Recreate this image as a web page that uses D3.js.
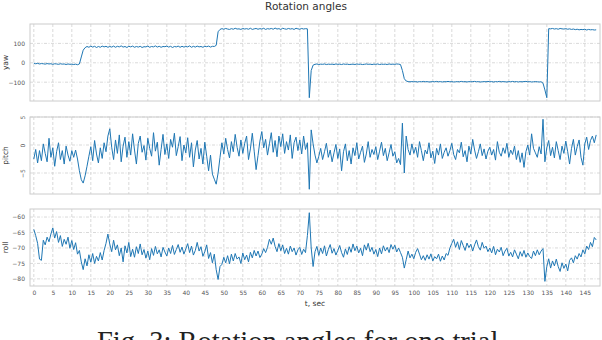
<!DOCTYPE html>
<html>
<head>
<meta charset="utf-8">
<script src="https://cdn.jsdelivr.net/npm/d3@7"></script>
<style>
  body { margin: 0; background: #fff; }
  text { font-family: "DejaVu Sans", sans-serif; }
</style>
</head>
<body>
<div id="chart-area"></div>
<script>
/*
*   Rotation angles: yaw / pitch / roll against time
*/

var dt = 0.5; // sample step, sec

var xTicks = [0, 5, 10, 15, 20, 25, 30, 35, 40, 45, 50, 55, 60, 65, 70, 75, 80, 85, 90, 95,
              100, 105, 110, 115, 120, 125, 130, 135, 140, 145];
var yawTicks = [-100, 0, 100];
var pitchTicks = [-5, 0, 5];
var rollTicks = [-80, -75, -70, -65, -60];

var yawData = [
  -2, -5, -3, -6, -4, -5, -7, -4, -6, -5, -8, -5, -6, -8, -5, -7, -6, -9, -6, -8,
  -7, -9, -7, -10, -6, 30, 65, 78, 84, 80, 86, 81, 85, 79, 84, 80, 86, 82, 85, 80,
  84, 81, 86, 80, 85, 82, 87, 81, 84, 79, 85, 82, 86, 80, 84, 81, 85, 79, 83, 82,
  86, 80, 84, 82, 87, 81, 85, 80, 84, 83, 86, 81, 85, 79, 84, 82, 86, 80, 85, 81,
  84, 82, 87, 80, 85, 81, 86, 82, 84, 80, 85, 83, 86, 81, 85, 84, 90, 160, 172, 176,
  173, 177, 174, 172, 176, 173, 178, 174, 175, 172, 177, 174, 176, 173, 178, 172, 175, 177, 173, 176,
  174, 178, 172, 176, 174, 177, 173, 179, 174, 176, 172, 178, 175, 173, 177, 174, 176, 172, 178, 175,
  173, 177, 174, 176, 175, -180, -40, -12, -8, -6, -9, -7, -8, -6, -9, -7, -8, -7, -9, -6,
  -8, -7, -9, -6, -8, -7, -9, -8, -7, -9, -6, -8, -7, -9, -8, -6, -8, -7, -9, -7,
  -8, -6, -9, -7, -8, -7, -9, -6, -8, -7, -8, -6, -7, -9, -40, -82, -94, -97, -98, -97,
  -98, -97, -99, -97, -98, -96, -98, -97, -99, -98, -97, -98, -96, -98, -97, -99, -97, -98, -96, -98,
  -97, -99, -98, -97, -98, -96, -98, -97, -99, -97, -98, -97, -96, -98, -97, -99, -98, -97, -98, -96,
  -98, -97, -99, -97, -98, -96, -98, -97, -98, -99, -97, -98, -96, -98, -97, -99, -97, -98, -97, -96,
  -98, -97, -99, -98, -97, -98, -99, -98, -105, -140, -180, 176, 175, 177, 174, 176, 173, 177, 175, 174,
  176, 173, 175, 172, 174, 171, 173, 170, 172, 171, 173, 169, 172, 170, 171, 169, 170
];

var pitchData = [
  -2.5, -0.8, -3.2, -1.0, -2.8, 0.2, -1.5, -3.0, 1.2, -2.2, -0.5, -3.8, -1.2, 0.4, -2.6, -1.0, -3.4, -0.2, -1.8, -2.9,
  -1.0, -2.2, -0.9, -2.5, -4.6, -6.2, -6.8, -5.5, -3.8, -2.0, -0.3, -2.8, 0.8, -1.6, -3.2, -0.5, -2.4, 0.4, -1.2, 1.6,
  2.9, -0.4, -2.6, 0.9, -1.5, 1.8, -3.0, -0.2, 1.4, -2.2, 0.6, -1.8, 2.0, -0.9, -3.4, 0.3, 1.6, -1.3, -0.1, -2.7,
  1.2, -0.6, -2.0, 2.2, -1.1, 0.5, -3.6, -0.8, 1.9, -1.7, 0.2, -2.4, 1.0, -0.4, 2.1, -1.9, -0.3, 1.5, -2.8, 0.0,
  -1.4, 1.3, -2.2, 0.4, -3.9, -0.9, 0.8, -2.5, -0.6, -3.4, 0.5, -2.0, -4.6, -1.8, -5.2, -6.1, -7.0, -5.0, -2.2, 0.4,
  -1.6, 1.2, -0.8, -2.3, 0.6, -1.2, 1.9, -0.4, -2.0, 0.9, -1.5, 0.3, 1.6, -2.6, -0.7, 2.1, -1.1, -4.4, -1.9, 0.7,
  2.4, -0.5, 1.0, -1.8, 0.2, 2.2, -1.3, 0.8, -2.1, 1.6, -0.3, 2.0, -1.5, 0.6, -0.9, 1.8, -2.4, 0.4, 1.4, -1.0,
  0.9, -1.6, 1.6, -0.8, 0.4, -7.9, 2.7, 0.2, -1.8, -3.2, -2.0, -0.6, -2.6, -1.2, 0.3, -2.2, -0.9, -3.0, -1.4, 0.1,
  -2.4, -0.7, -4.6, -1.2, 0.2, -2.8, -1.0, -3.4, -0.5, -1.9, 0.4, -2.5, -1.3, -0.2, -3.1, -1.6, 0.6, -2.2, -0.8, -1.7,
  -0.3, -2.6, -1.1, 0.5, -1.9, -0.6, -2.8, -1.4, 0.1, -2.0, -1.2, -3.2, -2.4, -3.5, 3.9, -5.0, 1.6, -0.8, -1.8, 0.2,
  -1.5, -0.4, -2.2, 0.6, -1.0, -2.8, -0.9, -1.6, 0.4, -2.3, -1.1, -3.3, -0.6, -1.8, 0.2, -2.4, -1.3, -0.5, -2.0, -1.0,
  0.3, -1.7, -2.6, -0.8, -1.4, 0.5, -2.1, -1.0, -3.0, -0.2, -1.6, 1.0, -0.9, -2.4, -1.2, 0.2, -1.9, -0.7, -2.5, -1.1,
  -0.4, -1.8, -0.8, -2.7, 0.6, -1.3, -2.0, -0.5, -1.5, 0.3, -2.2, -0.9, -1.7, -0.2, -2.6, -1.0, -3.1, -1.4, -4.0, -1.2,
  0.0, -1.8, 2.0, -0.6, -1.4, -2.2, -0.3, -1.6, 4.6, -3.0, -0.5, 0.8, -1.9, -0.4, -2.3, 0.6, -1.0, -2.6, -0.2, -1.5,
  0.7, -1.2, -3.4, -0.6, 1.0, -1.8, -0.3, 0.9, -2.2, -3.6, 0.2, 1.4, -0.8, 0.8, 1.6, 0.4, 1.8
];

var rollData = [
  -64.0, -66.0, -68.5, -73.6, -74.0, -67.5, -69.0, -66.5, -68.0, -65.5, -63.5, -66.8, -64.7, -68.2, -66.0, -69.5, -67.2, -68.8, -66.5, -70.1,
  -67.6, -70.5, -68.3, -72.0, -70.8, -74.5, -77.0, -73.5, -75.8, -72.2, -74.6, -71.8, -75.0, -72.7, -74.2, -71.5, -73.9, -70.8, -68.5, -65.5,
  -68.8, -71.2, -67.5, -70.6, -69.0, -72.5, -70.0, -74.5, -69.3, -71.6, -68.2, -72.8, -70.4, -73.0, -69.6, -71.8, -68.7, -72.2, -70.5, -73.3,
  -71.0, -73.8, -70.2, -72.4, -69.5, -71.9, -70.6, -72.9, -69.8, -71.3, -72.6, -70.0, -71.8, -69.2, -72.1, -70.5, -68.9, -71.4, -69.7, -72.0,
  -70.3, -68.6, -71.5, -69.4, -72.3, -70.8, -68.2, -71.0, -69.6, -72.7, -71.2, -69.0, -73.4, -71.5, -74.8, -72.0, -77.0, -80.2, -76.0, -75.3,
  -73.0, -74.8, -72.5, -75.1, -72.0, -74.2, -71.8, -73.6, -72.9, -75.0, -71.6, -73.8, -72.3, -74.5, -71.4, -73.2, -70.8, -72.6, -71.0, -73.1,
  -72.0, -70.2, -71.5, -69.8, -67.2, -68.8, -66.8, -69.5, -71.2, -68.6, -70.9, -69.0, -71.8, -70.1, -72.0, -69.4, -71.2, -70.0, -72.3, -70.6,
  -69.8, -72.1, -70.4, -71.5, -66.0, -58.6, -70.0, -76.0, -71.2, -69.5, -72.4, -70.0, -71.8, -69.3, -72.6, -70.5, -68.9, -71.7, -70.2, -72.3,
  -70.8, -69.2, -71.5, -73.0, -70.3, -72.1, -69.6, -71.4, -68.7, -70.9, -69.4, -71.6, -70.1, -72.5, -69.0, -70.7, -68.5, -71.2, -69.8, -72.0,
  -70.5, -72.8, -70.0, -71.9, -69.3, -71.0, -69.8, -71.5, -68.9, -70.4, -69.1, -71.3, -70.0, -71.5, -73.0, -76.5, -73.8, -71.0, -73.2, -72.0,
  -73.5, -71.4, -70.2, -72.0, -73.8, -72.5, -74.0, -72.2, -73.6, -71.9, -74.2, -72.8, -73.5, -72.0, -74.3, -72.6, -73.9, -71.8, -72.4, -70.0,
  -68.5, -67.2, -69.8, -68.0, -70.5, -67.6, -69.2, -70.8, -68.4, -69.9, -68.8, -71.0, -69.0, -67.4, -69.6, -70.7, -68.2, -70.1, -69.4, -71.2,
  -70.0, -71.6, -69.5, -72.2, -70.4, -71.3, -69.8, -72.5, -71.0, -70.1, -72.6, -71.4, -72.9, -70.6, -72.0, -73.5, -71.2, -72.7, -70.8, -73.0,
  -71.6, -72.8, -73.4, -71.0, -72.5, -70.6, -72.2, -71.0, -70.2, -80.8, -76.0, -73.5, -76.5, -74.2, -75.8, -73.6, -76.0, -77.6, -74.8, -76.6,
  -75.2, -77.4, -74.0, -73.2, -74.8, -72.5, -73.6, -71.8, -72.9, -70.6, -71.9, -69.4, -70.5, -68.2, -69.6, -66.6, -67.4
];

/************* LAYOUT ***********************/
var width = 602, height = 340;
var left = 30, right = 600;
var gridColour = "#cfcfcf", frameColour = "#cccccc", lineColour = "#1f77b4";

var svg = d3.select("#chart-area")
    .append("svg")
    .attr("width", width)
    .attr("height", height)
    .style("display", "block");

svg.append("rect").attr("width", width).attr("height", height).attr("fill", "#fff");

var x = d3.scaleLinear().domain([-1, 149]).range([left, right]);

// title
svg.append("text")
    .attr("x", 306)
    .attr("y", 9.5)
    .attr("text-anchor", "middle")
    .attr("font-size", "10.5px")
    .attr("fill", "#333")
    .text("Rotation angles");

var panels = [
  { label: "yaw",   data: yawData,   ticks: yawTicks,   domain: [-197, 200],    top: 24,  rotate: false },
  { label: "pitch", data: pitchData, ticks: pitchTicks, domain: [-8.75, 5],     top: 117, rotate: true },
  { label: "roll",  data: rollData,  ticks: rollTicks,  domain: [-82.3, -57.4], top: 209, rotate: false }
];
var panelH = 77;

panels.forEach(function(p){
    var y = d3.scaleLinear().domain(p.domain).range([p.top + panelH, p.top]);
    var g = svg.append("g");

    // grid
    g.selectAll(".vgrid").data(xTicks).enter().append("line")
        .attr("x1", function(d){ return x(d); })
        .attr("x2", function(d){ return x(d); })
        .attr("y1", p.top).attr("y2", p.top + panelH)
        .attr("stroke", gridColour).attr("stroke-width", 0.8)
        .attr("stroke-dasharray", "3,2");
    g.selectAll(".hgrid").data(p.ticks).enter().append("line")
        .attr("x1", left).attr("x2", right)
        .attr("y1", function(d){ return y(d); })
        .attr("y2", function(d){ return y(d); })
        .attr("stroke", gridColour).attr("stroke-width", 0.8)
        .attr("stroke-dasharray", "3,1.5,1,1.5");

    // series
    var line = d3.line()
        .x(function(d, i){ return x(i * dt); })
        .y(function(d){ return y(d); });
    g.append("path")
        .datum(p.data)
        .attr("d", line)
        .attr("fill", "none")
        .attr("stroke", lineColour)
        .attr("stroke-width", 1)
        .attr("stroke-linejoin", "round");

    // frame
    g.append("rect")
        .attr("x", left).attr("y", p.top)
        .attr("width", right - left).attr("height", panelH)
        .attr("fill", "none").attr("stroke", frameColour).attr("stroke-width", 1);

    // y axis
    var yAxis = g.append("g")
        .attr("transform", "translate(" + left + ",0)")
        .call(d3.axisLeft(y).tickValues(p.ticks).tickSize(0).tickPadding(5)
              .tickFormat(d3.format("d")));
    yAxis.select(".domain").remove();
    yAxis.selectAll("text").attr("font-size", "6px").attr("fill", "#555");
    if (p.rotate) {
        yAxis.selectAll("text")
            .attr("transform", "rotate(-90)")
            .attr("x", 0).attr("y", -5).attr("dy", 0)
            .style("text-anchor", "middle");
    }

    // y label
    svg.append("text")
        .attr("transform", "translate(8," + (p.top + panelH / 2) + ") rotate(-90)")
        .attr("text-anchor", "middle")
        .attr("font-size", "7.5px")
        .attr("fill", "#333")
        .text(p.label);
});

// x axis on bottom panel
var xAxis = svg.append("g")
    .attr("transform", "translate(0," + (209 + panelH) + ")")
    .call(d3.axisBottom(x).tickValues(xTicks).tickSize(0).tickPadding(5));
xAxis.select(".domain").remove();
xAxis.selectAll("text").attr("font-size", "6px").attr("fill", "#555");

svg.append("text")
    .attr("x", 315)
    .attr("y", 306)
    .attr("text-anchor", "middle")
    .attr("font-size", "7.5px")
    .attr("fill", "#333")
    .text("t, sec");

// caption, cut by the bottom edge as in the source figure
svg.append("text")
    .attr("x", 97)
    .attr("y", 351)
    .style("font-family", "'Liberation Serif', 'DejaVu Serif', serif")
    .attr("font-size", "28.5px")
    .attr("fill", "#222")
    .text("Fig. 3: Rotation angles for one trial");
</script>
</body>
</html>
